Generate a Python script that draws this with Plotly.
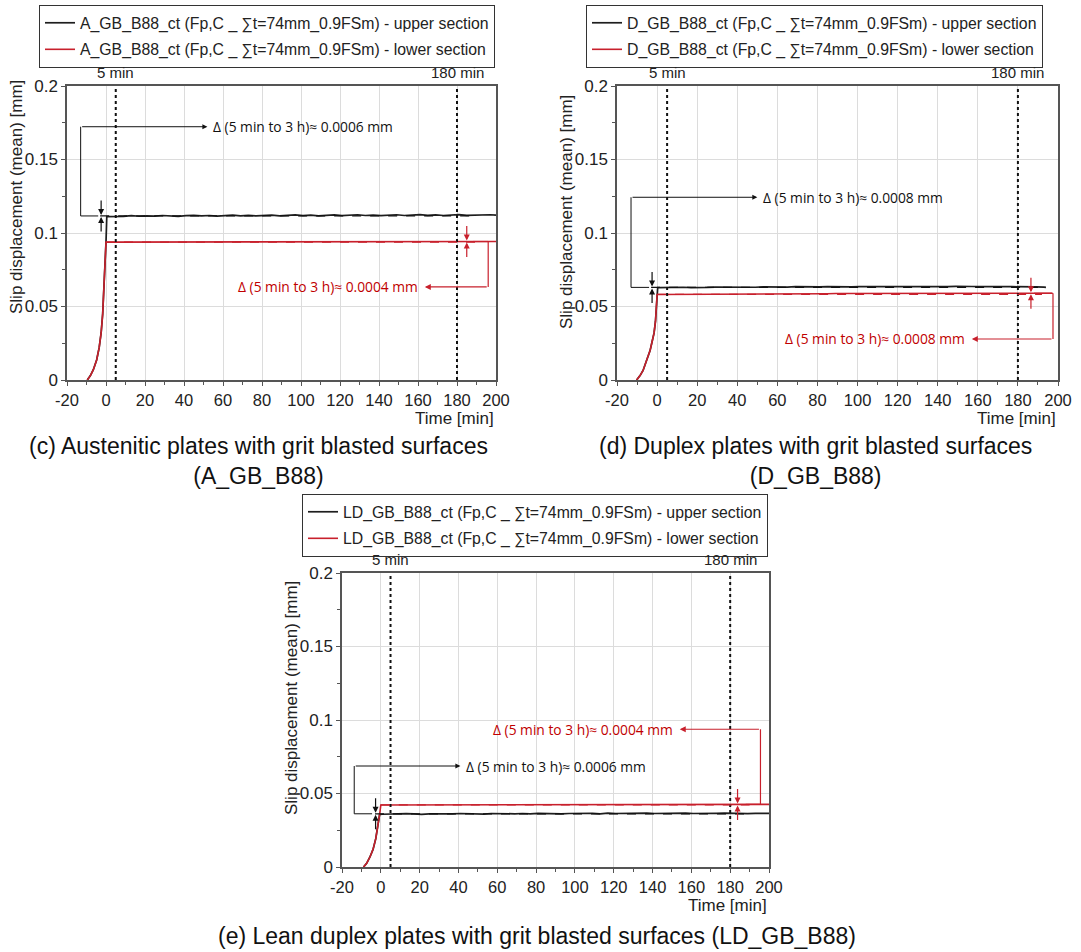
import plotly.graph_objects as go

# ------------------------------------------------------------------ data
X_TICKS = [-20, 0, 20, 40, 60, 80, 100, 120, 140, 160, 180, 200]
X_TICK_TEXT = ["-20", "0", "20", "40", "60", "80", "100", "120", "140", "160", "180", "200"]
Y_TICKS = [0, 0.05, 0.1, 0.15, 0.2]
Y_TICK_TEXT = ["0", "0.05", "0.1", "0.15", "0.2"]
MARK_TIMES = [5, 180]
MARK_LABELS = ["5 min", "180 min"]

# sample times on the plateau (min)
PLATEAU_T = list(range(1, 198, 4)) + [200]          # 1 ... 197, 200
PLATEAU_T_D_UP = list(range(1, 194, 4)) + [194]     # upper (d) stops at 194
PLATEAU_T_D_LO = list(range(1, 198, 4))             # lower (d) stops at 197

# ---- (c) A_GB_B88
c_rise_t_lo = [-9.6, -8, -6.5, -4.8, -3.5, -2.5, -1.7, -1, -0.5, -0.2, 0]
c_rise_lo = [0, 0.003, 0.007, 0.0136, 0.022, 0.032, 0.045, 0.062, 0.080, 0.090, 0.0938]
c_rise_t_up = [-9.6, -8, -6.5, -4.8, -3.5, -2.5, -1.7, -1, -0.5, -0.2, 0, 0.4]
c_rise_up = [0, 0.003, 0.007, 0.0136, 0.022, 0.032, 0.045, 0.062, 0.080, 0.090, 0.0938, 0.1112]
c_upper = [0.1112, 0.1116, 0.1113, 0.1118, 0.1114, 0.1117, 0.1115, 0.1119, 0.1116, 0.1113,
           0.1118, 0.1120, 0.1116, 0.1119, 0.1115, 0.1119, 0.1121, 0.1117, 0.1120, 0.1116,
           0.1119, 0.1122, 0.1117, 0.1120, 0.1123, 0.1118, 0.1121, 0.1117, 0.1120, 0.1123,
           0.1118, 0.1121, 0.1124, 0.1119, 0.1122, 0.1118, 0.1121, 0.1124, 0.1119, 0.1122,
           0.1125, 0.1120, 0.1123, 0.1119, 0.1122, 0.1125, 0.1120, 0.1123, 0.1121, 0.1124, 0.1122]
c_lower = [0.0938, 0.0938, 0.0939, 0.0938, 0.0939, 0.0939, 0.0939, 0.0940, 0.0939, 0.0940,
           0.0940, 0.0940, 0.0940, 0.0941, 0.0940, 0.0941, 0.0941, 0.0941, 0.0941, 0.0941,
           0.0941, 0.0942, 0.0941, 0.0942, 0.0942, 0.0941, 0.0942, 0.0942, 0.0942, 0.0942,
           0.0942, 0.0942, 0.0943, 0.0942, 0.0942, 0.0943, 0.0942, 0.0943, 0.0942, 0.0942,
           0.0943, 0.0942, 0.0942, 0.0943, 0.0942, 0.0942, 0.0943, 0.0942, 0.0942, 0.0943, 0.0942]

# ---- (d) D_GB_B88
d_rise_t_lo = [-10.2, -8.5, -7, -5.1, -3.5, -2.5, -1.5, -0.8, -0.3, 0]
d_rise_lo = [0, 0.003, 0.0065, 0.0136, 0.020, 0.026, 0.032, 0.040, 0.049, 0.0582]
d_rise_t_up = [-10.2, -8.5, -7, -5.1, -3.5, -2.5, -1.5, -0.8, -0.3, 0, 0.3]
d_rise_up = [0, 0.003, 0.0065, 0.0136, 0.020, 0.026, 0.032, 0.040, 0.049, 0.0582, 0.0628]
d_upper = [0.0628, 0.0630, 0.0628, 0.0631, 0.0629, 0.0632, 0.0630, 0.0632, 0.0631, 0.0633,
           0.0630, 0.0633, 0.0631, 0.0634, 0.0632, 0.0634, 0.0632, 0.0635, 0.0633, 0.0636,
           0.0633, 0.0635, 0.0633, 0.0636, 0.0634, 0.0636, 0.0634, 0.0637, 0.0635, 0.0636,
           0.0634, 0.0637, 0.0635, 0.0636, 0.0634, 0.0636, 0.0635, 0.0637, 0.0634, 0.0636,
           0.0635, 0.0637, 0.0634, 0.0636, 0.0635, 0.0636, 0.0634, 0.0633, 0.0632, 0.0630]
d_lower = [0.0582, 0.0582, 0.0583, 0.0583, 0.0583, 0.0584, 0.0584, 0.0584, 0.0585, 0.0585,
           0.0585, 0.0585, 0.0586, 0.0586, 0.0586, 0.0586, 0.0586, 0.0587, 0.0587, 0.0587,
           0.0587, 0.0587, 0.0588, 0.0588, 0.0588, 0.0588, 0.0588, 0.0588, 0.0589, 0.0589,
           0.0589, 0.0589, 0.0589, 0.0589, 0.0589, 0.0590, 0.0590, 0.0590, 0.0590, 0.0590,
           0.0590, 0.0590, 0.0590, 0.0590, 0.0590, 0.0590, 0.0590, 0.0590, 0.0590, 0.0590]

# ---- (e) LD_GB_B88
e_rise_t_lo = [-8.9, -7.3, -5.6, -4, -2.6, -1.8, -1.3, -0.6, -0.2, 0]
e_rise_lo = [0, 0.0025, 0.0068, 0.012, 0.0193, 0.025, 0.0295, 0.036, 0.040, 0.0422]
e_rise_t_up = [-8.9, -7.3, -5.6, -4, -2.6, -1.8, -1.3, -0.6]
e_rise_up = [0, 0.0025, 0.0068, 0.012, 0.0193, 0.025, 0.0295, 0.0358]
e_upper = [0.0359, 0.0362, 0.0360, 0.0363, 0.0361, 0.0358, 0.0362, 0.0360, 0.0363, 0.0361,
           0.0364, 0.0361, 0.0363, 0.0360, 0.0364, 0.0362, 0.0365, 0.0362, 0.0364, 0.0361,
           0.0365, 0.0363, 0.0366, 0.0362, 0.0364, 0.0366, 0.0363, 0.0365, 0.0362, 0.0366,
           0.0364, 0.0366, 0.0363, 0.0365, 0.0367, 0.0364, 0.0366, 0.0363, 0.0365, 0.0367,
           0.0364, 0.0366, 0.0363, 0.0365, 0.0366, 0.0364, 0.0366, 0.0363, 0.0365, 0.0364, 0.0365]
e_lower = [0.0422, 0.0422, 0.0422, 0.0423, 0.0423, 0.0423, 0.0423, 0.0423, 0.0424, 0.0424,
           0.0424, 0.0424, 0.0424, 0.0424, 0.0424, 0.0425, 0.0425, 0.0425, 0.0425, 0.0425,
           0.0425, 0.0425, 0.0425, 0.0425, 0.0426, 0.0426, 0.0426, 0.0426, 0.0426, 0.0426,
           0.0426, 0.0426, 0.0426, 0.0426, 0.0426, 0.0426, 0.0426, 0.0426, 0.0426, 0.0426,
           0.0426, 0.0426, 0.0426, 0.0426, 0.0426, 0.0426, 0.0426, 0.0426, 0.0426, 0.0426, 0.0426]

SPECIMENS = ["A_GB_B88", "D_GB_B88", "LD_GB_B88"]
CAPTIONS = ["(c) Austenitic plates with grit blasted surfaces<br>(A_GB_B88)",
            "(d) Duplex plates with grit blasted surfaces<br>(D_GB_B88)",
            "(e) Lean duplex plates with grit blasted surfaces (LD_GB_B88)"]
DELTA_UPPER = ["0.0006", "0.0008", "0.0006"]
DELTA_LOWER = ["0.0004", "0.0008", "0.0004"]

# ------------------------------------------------------------------ style / layout
FONT = "Liberation Sans, Arial, sans-serif"
ANN_FONT = "Open Sans, Noto Sans, sans-serif"
BLACK = "#1e1e1e"
RED = "#c8202c"
RED_TXT = "#c00000"
W, H = 1081, 952

def px(v):
    return v / W

def py(v):
    return 1 - v / H

# per-panel geometry (pixels) and annotation anchors (data units)
PANELS = [
    dict(xd=[px(67), px(496)], yd=[py(380), py(86)],
         legend=(px(39), py(5)), ytitle=(px(17), py(197)), caption=(px(258), py(461)),
         tu=c_rise_t_up + PLATEAU_T, yu=c_rise_up + c_upper,
         tl=c_rise_t_lo + PLATEAU_T, yl=c_rise_lo + c_lower,
         bx=-13, btop=0.1723, bend=52, bfoot=-4, sx=-2.5,
         rx=196, rtext=0.0633, rend=163.5, rsx=185, rdash_end=192),
    dict(xd=[px(617), px(1058)], yd=[py(380), py(86)],
         legend=(px(586), py(5)), ytitle=(px(566), py(212)), caption=(px(815), py(461)),
         tu=d_rise_t_up + PLATEAU_T_D_UP, yu=d_rise_up + d_upper,
         tl=d_rise_t_lo + PLATEAU_T_D_LO, yl=d_rise_lo + d_lower,
         bx=-13, btop=0.1243, bend=50, bfoot=-4, sx=-2.5,
         rx=197.5, rtext=0.0279, rend=157, rsx=186.5, rdash_end=192),
    dict(xd=[px(342), px(769)], yd=[py(867), py(573)],
         legend=(px(302), py(494)), ytitle=(px(291), py(698)), caption=(px(537), py(936)),
         tu=e_rise_t_up + PLATEAU_T, yu=e_rise_up + e_upper,
         tl=e_rise_t_lo + PLATEAU_T, yl=e_rise_lo + e_lower,
         bx=-13.7, btop=0.0687, bend=41, bfoot=-4.5, sx=-2.7,
         rx=195.6, rtext=0.0937, rend=154, rsx=183.8, rdash_end=190),
]

fig = go.Figure()
shapes = []
annotations = []
layout = {}


def value_at(ts, ys, t):
    return ys[ts.index(t)]


for k, p in enumerate(PANELS, start=1):
    suf = "" if k == 1 else str(k)
    xa, ya = "x" + suf, "y" + suf
    lg = "legend" + suf
    spec = SPECIMENS[k - 1]

    fig.add_trace(go.Scatter(
        x=p["tu"], y=p["yu"], xaxis=xa, yaxis=ya, mode="lines",
        line=dict(color=BLACK, width=1.7),
        name=f"{spec}_ct (Fp,C _ \u2211t=74mm_0.9FSm) - upper section",
        legend=lg, legendgroup=f"{lg}u"))
    fig.add_trace(go.Scatter(
        x=p["tl"], y=p["yl"], xaxis=xa, yaxis=ya, mode="lines",
        line=dict(color=RED, width=1.6),
        name=f"{spec}_ct (Fp,C _ \u2211t=74mm_0.9FSm) - lower section",
        legend=lg, legendgroup=f"{lg}l"))

    layout["xaxis" + suf] = dict(
        domain=p["xd"], anchor=ya, range=[-20, 200], tickvals=X_TICKS, ticktext=X_TICK_TEXT,
        showgrid=True, gridcolor="#dcdcdc", gridwidth=1, zeroline=False,
        showline=True, mirror=True, linecolor="#555", linewidth=1.5,
        ticks="outside", ticklen=4, tickcolor="#555",
        minor=dict(dtick=10, ticks="outside", ticklen=3, tickcolor="#555", showgrid=False),
        tickfont=dict(size=16.5, family=FONT, color="#222"))
    layout["yaxis" + suf] = dict(
        domain=p["yd"], anchor=xa, range=[0, 0.2], tickvals=Y_TICKS, ticktext=Y_TICK_TEXT,
        showgrid=True, gridcolor="#dcdcdc", gridwidth=1, zeroline=False,
        showline=True, mirror=True, linecolor="#555", linewidth=1.5,
        ticks="outside", ticklen=4, tickcolor="#555",
        minor=dict(dtick=0.025, ticks="outside", ticklen=3, tickcolor="#555", showgrid=False),
        tickfont=dict(size=17, family=FONT, color="#222"))
    layout[lg] = dict(
        x=p["legend"][0], y=p["legend"][1], xanchor="left", yanchor="top",
        bordercolor="#333", borderwidth=1, bgcolor="white",
        font=dict(size=15.8, family=FONT, color="#222"),
        traceorder="grouped", tracegroupgap=3)

    # dotted time markers + labels
    for t, lab in zip(MARK_TIMES, MARK_LABELS):
        shapes.append(dict(type="line", xref=xa, yref=ya + " domain", x0=t, x1=t, y0=0, y1=1,
                           line=dict(color="#111", width=2, dash="dot")))
        annotations.append(dict(text=lab, xref=xa, yref=ya + " domain", x=t, y=1,
                                xanchor="center", yanchor="bottom", yshift=3, showarrow=False,
                                font=dict(size=15, family=FONT, color="#222")))

    up_level = value_at(p["tu"], p["yu"], 5)
    lo_level = value_at(p["tl"], p["yl"], 5)
    lo_end = value_at(p["tl"], p["yl"], 181)

    # dashed reference lines at the 5 min level
    shapes.append(dict(type="line", xref=xa, yref=ya, x0=-3, x1=190, y0=up_level, y1=up_level,
                       line=dict(color="#111", width=1.3, dash="dash")))
    shapes.append(dict(type="line", xref=xa, yref=ya, x0=0, x1=p["rdash_end"], y0=lo_level, y1=lo_level,
                       line=dict(color=RED, width=1.3, dash="dash")))

    # black bracket
    shapes.append(dict(type="line", xref=xa, yref=ya, x0=p["bfoot"], x1=p["bx"], y0=up_level, y1=up_level,
                       line=dict(color="#111", width=1)))
    shapes.append(dict(type="line", xref=xa, yref=ya, x0=p["bx"], x1=p["bx"], y0=up_level, y1=p["btop"],
                       line=dict(color="#111", width=1)))
    annotations.append(dict(text="", xref=xa, yref=ya, x=p["bend"], y=p["btop"],
                            axref=xa, ayref=ya, ax=p["bx"], ay=p["btop"], showarrow=True,
                            arrowhead=2, arrowsize=1, arrowwidth=1, arrowcolor="#111", standoff=0))
    annotations.append(dict(text=f"\u0394 (5 min to 3 h)\u2248 {DELTA_UPPER[k-1]} mm",
                            xref=xa, yref=ya, x=p["bend"], y=p["btop"], xanchor="left",
                            xshift=4, showarrow=False,
                            font=dict(size=13.8, family=ANN_FONT, color="#111")))
    # red bracket
    shapes.append(dict(type="line", xref=xa, yref=ya, x0=188, x1=p["rx"], y0=lo_end, y1=lo_end,
                       line=dict(color=RED, width=1.2)))
    shapes.append(dict(type="line", xref=xa, yref=ya, x0=p["rx"], x1=p["rx"], y0=lo_end, y1=p["rtext"],
                       line=dict(color=RED, width=1.2)))
    annotations.append(dict(text="", xref=xa, yref=ya, x=p["rend"], y=p["rtext"],
                            axref=xa, ayref=ya, ax=p["rx"], ay=p["rtext"], showarrow=True,
                            arrowhead=2, arrowsize=1, arrowwidth=1.2, arrowcolor=RED, standoff=0))
    annotations.append(dict(text=f"\u0394 (5 min to 3 h)\u2248 {DELTA_LOWER[k-1]} mm",
                            xref=xa, yref=ya, x=p["rend"], y=p["rtext"], xanchor="right",
                            xshift=-5, showarrow=False,
                            font=dict(size=13.8, family=ANN_FONT, color=RED_TXT)))

    # small delta arrows
    for ay in (-17, 17):
        annotations.append(dict(text="", xref=xa, yref=ya, x=p["sx"], y=up_level, ax=0, ay=ay,
                                showarrow=True, arrowhead=2, arrowsize=1, arrowwidth=1.2,
                                arrowcolor="#111", standoff=1))
        annotations.append(dict(text="", xref=xa, yref=ya, x=p["rsx"], y=lo_end, ax=0, ay=ay,
                                showarrow=True, arrowhead=2, arrowsize=1, arrowwidth=1.2,
                                arrowcolor=RED, standoff=1))

    # axis titles
    annotations.append(dict(text="Slip displacement (mean) [mm]", xref="paper", yref="paper",
                            x=p["ytitle"][0], y=p["ytitle"][1], textangle=-90, showarrow=False,
                            xanchor="center", yanchor="middle",
                            font=dict(size=17, family=FONT, color="#222")))
    annotations.append(dict(text="Time [min]", xref=xa + " domain", yref=ya + " domain",
                            x=1, y=0, xanchor="right", yanchor="middle", yshift=-38,
                            showarrow=False, font=dict(size=17, family=FONT, color="#222")))
    # caption
    annotations.append(dict(text=CAPTIONS[k - 1], xref="paper", yref="paper",
                            x=p["caption"][0], y=p["caption"][1], xanchor="center",
                            yanchor="middle", showarrow=False,
                            font=dict(size=23, family=FONT, color="#111")))

fig.update_layout(
    width=W, height=H, autosize=False,
    margin=dict(l=0, r=0, t=0, b=0, autoexpand=False),
    paper_bgcolor="white", plot_bgcolor="white",
    font=dict(family=FONT, color="#222"),
    shapes=shapes, annotations=annotations,
    **layout)

# remove the default 8px page margin so the figure fills the window exactly
fig.write_html("out.html",
               config={"displayModeBar": False},
               post_script="document.body.style.margin='0px';document.body.style.overflow='hidden';")
